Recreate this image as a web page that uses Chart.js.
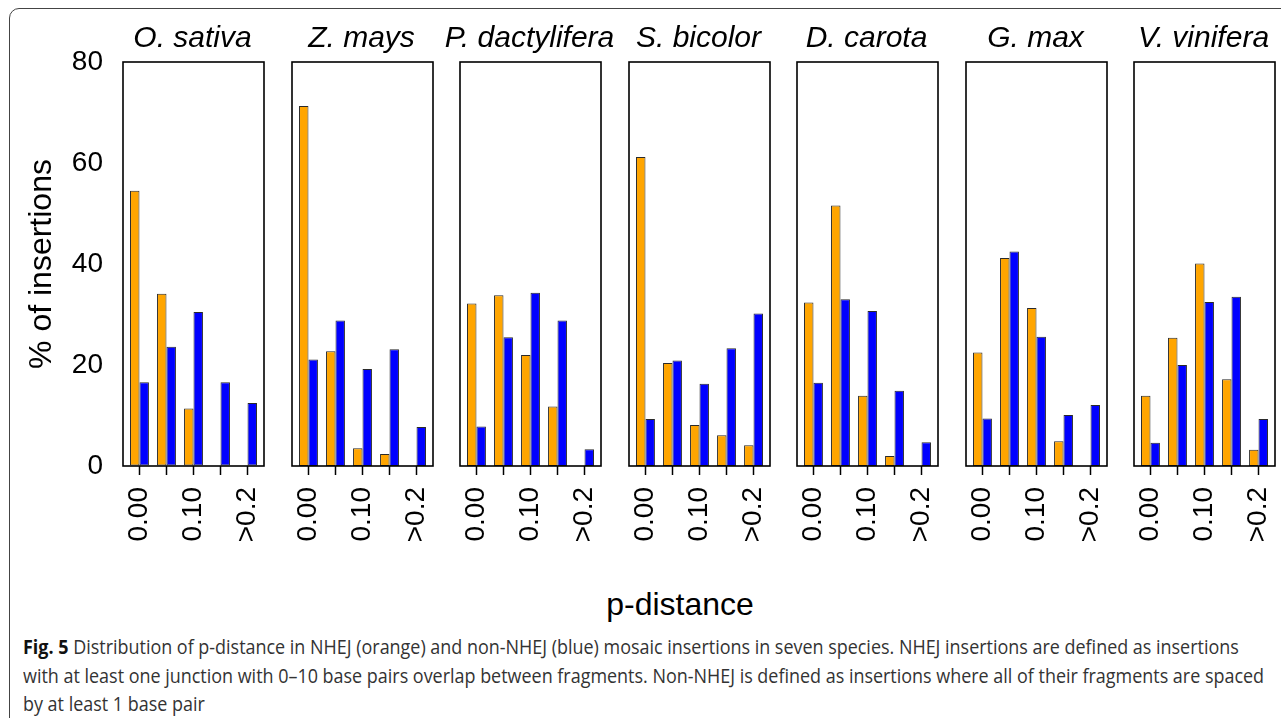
<!DOCTYPE html>
<html lang="en">
<head>
    <meta charset="UTF-8">
    <title>p-distance in NHEJ and non-NHEJ mosaic insertions</title>

    <script src="https://cdn.jsdelivr.net/npm/chart.js"></script>

    <style>
        body {
            margin: 0;
            width: 1281px;
            height: 718px;
            overflow: hidden;
            position: relative;
            background: #fff;
            font-family: "Liberation Sans", Arial, sans-serif;
        }

        .frame {
            position: absolute;
            left: 9px;
            top: 8px;
            width: 1300px;
            height: 720px;
            border: 1.2px solid #444;
            border-radius: 10px;
        }

        .panel {
            position: absolute;
            top: 0;
            height: 560px;
        }

        .species {
            position: absolute;
            top: 22px;
            width: 240px;
            text-align: center;
            font-style: italic;
            font-size: 30px;
            line-height: 30px;
            white-space: nowrap;
            color: #000;
        }

        .xlabel {
            position: absolute;
            left: 480px;
            top: 588px;
            width: 400px;
            text-align: center;
            font-size: 32px;
            line-height: 32px;
            color: #000;
        }

        .caption {
            position: absolute;
            left: 23px;
            top: 633px;
            font-family: "Open Sans", sans-serif;
            font-size: 20px;
            line-height: 28.5px;
            white-space: nowrap;
            color: #333;
            transform: scaleX(0.897);
            transform-origin: left top;
        }

        .caption b {
            color: #111;
        }
    </style>
</head>
<body>
    <div class="frame"></div>
    <div class="xlabel">p-distance</div>
    <div class="caption"><b>Fig. 5</b> Distribution of p-distance in NHEJ (orange) and non-NHEJ (blue) mosaic insertions in seven species. NHEJ insertions are defined as insertions<br>with at least one junction with 0–10 base pairs overlap between fragments. Non-NHEJ is defined as insertions where all of their fragments are spaced<br>by at least 1 base pair</div>

    <script>
        // Data (% of insertions per p-distance bin)
        const species = ['O. sativa', 'Z. mays', 'P. dactylifera', 'S. bicolor', 'D. carota', 'G. max', 'V. vinifera'];
        const pBins = ['0.00', '0.05', '0.10', '0.15', '>0.2'];
        const labelledBins = ['0.00', '0.10', '>0.2'];
        const yTicks = [0, 20, 40, 60, 80];

        // NHEJ (orange), one row per species
        const nhej = [
            [54.5, 34.1, 11.4, 0, 0],
            [71.3, 22.7, 3.5, 2.4, 0],
            [32.2, 33.8, 22.0, 11.8, 0],
            [61.2, 20.4, 8.1, 6.1, 4.1],
            [32.4, 51.6, 13.9, 2.0, 0],
            [22.5, 41.2, 31.3, 4.9, 0],
            [13.9, 25.4, 40.1, 17.2, 3.2]
        ];

        // non-NHEJ (blue)
        const nonNhej = [
            [16.6, 23.6, 30.5, 16.6, 12.5],
            [21.1, 28.8, 19.2, 23.1, 7.7],
            [7.8, 25.5, 34.3, 28.8, 3.3],
            [9.3, 20.9, 16.3, 23.3, 30.2],
            [16.5, 33.0, 30.7, 14.9, 4.7],
            [9.4, 42.5, 25.6, 10.1, 12.1],
            [4.6, 20.0, 32.5, 33.5, 9.3]
        ];

        const FONT = '"Liberation Sans", Arial, sans-serif';
        const panelW = 141;
        const padR = 45;
        const chartTop = 62;
        const chartBottom = 466;
        const canvasH = 560;

        // black frame round each panel
        const panelBox = {
            id: 'panelBox',
            afterDatasetsDraw(chart) {
                const { ctx, chartArea: a } = chart;
                ctx.save();
                ctx.strokeStyle = '#000';
                ctx.lineWidth = 1.6;
                ctx.strokeRect(a.left, a.top, a.right - a.left, a.bottom - a.top);
                ctx.restore();
            }
        };

        function toPoints(values) {
            return values.map((v, k) => ({ x: k, y: v }));
        }

        species.forEach((name, i) => {
            const left = Math.round(123 + i * 168.5);
            const first = i === 0;
            const padL = first ? 0 : 10;
            const yW = first ? left : 0;

            const box = document.createElement('div');
            box.className = 'panel';
            box.style.left = (first ? 0 : left - padL) + 'px';
            box.style.width = (yW + padL + panelW + padR) + 'px';
            const canvas = document.createElement('canvas');
            box.appendChild(canvas);
            document.body.appendChild(box);

            const title = document.createElement('div');
            title.className = 'species';
            title.textContent = name;
            title.style.left = (left + panelW / 2 - 121) + 'px';
            document.body.appendChild(title);

            new Chart(canvas, {
                type: 'bar',
                data: {
                    datasets: [
                        {
                            label: 'NHEJ',
                            data: toPoints(nhej[i]),
                            backgroundColor: '#ffa500',
                            borderColor: '#2a2a2a',
                            borderWidth: 1,
                            borderSkipped: false,
                            barPercentage: 1,
                            categoryPercentage: 0.7
                        },
                        {
                            label: 'non-NHEJ',
                            data: toPoints(nonNhej[i]),
                            backgroundColor: '#0000ff',
                            borderColor: '#2a2a2a',
                            borderWidth: 1,
                            borderSkipped: false,
                            barPercentage: 1,
                            categoryPercentage: 0.7
                        }
                    ]
                },
                options: {
                    responsive: true,
                    maintainAspectRatio: false,
                    animation: false,
                    layout: { padding: { left: padL, right: padR, top: chartTop, bottom: 0 } },
                    plugins: {
                        legend: { display: false },
                        tooltip: { enabled: false }
                    },
                    scales: {
                        x: {
                            type: 'linear',
                            offset: false,
                            min: -0.61,
                            max: 4.61,
                            afterBuildTicks: s => { s.ticks = pBins.map((b, k) => ({ value: k })); },
                            afterFit: s => { s.height = canvasH - chartBottom; },
                            grid: { offset: false, drawOnChartArea: false, drawTicks: true, tickLength: 9, tickWidth: 1.5, tickColor: '#000' },
                            border: { display: false },
                            ticks: {
                                autoSkip: false,
                                minRotation: 90,
                                maxRotation: 90,
                                padding: 12,
                                color: '#000',
                                font: { family: FONT, size: 28 },
                                callback: v => labelledBins.includes(pBins[v]) ? pBins[v] : ''
                            }
                        },
                        y: {
                            display: first,
                            min: 0,
                            max: 80,
                            afterBuildTicks: s => { s.ticks = yTicks.map(v => ({ value: v })); },
                            afterFit: s => { s.width = yW; },
                            grid: { drawOnChartArea: false, drawTicks: false },
                            border: { display: false },
                            ticks: { padding: 20, color: '#000', font: { family: FONT, size: 28 } },
                            title: {
                                display: true,
                                text: '% of insertions',
                                color: '#000',
                                font: { family: FONT, size: 32 },
                                padding: { top: 23, bottom: 0 }
                            }
                        }
                    }
                },
                plugins: [panelBox]
            });
        });
    </script>
</body>
</html>
